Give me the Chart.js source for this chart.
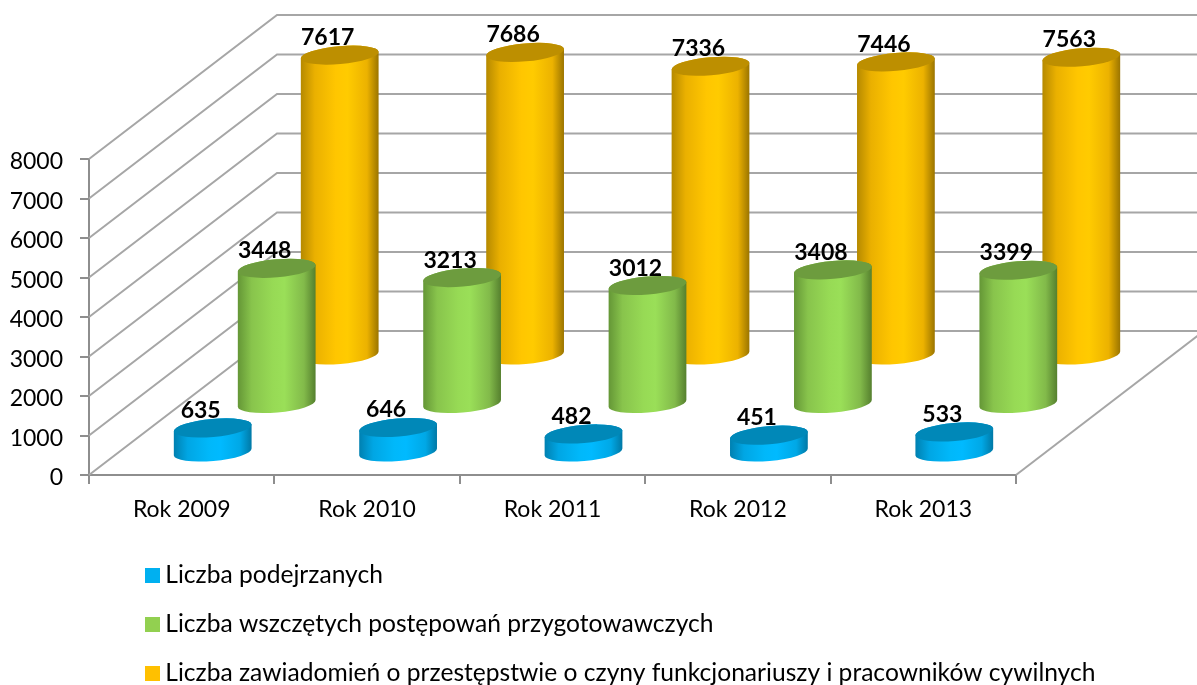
<!DOCTYPE html>
<html lang="pl">
<head>
<meta charset="utf-8">
<title>Liczba zawiadomień, postępowań i podejrzanych</title>
<script src="https://cdn.jsdelivr.net/npm/chart.js@4"></script>
<style>
    html, body { margin: 0; padding: 0; background: #fff; overflow: hidden; }
    canvas { display: block; }
</style>
</head>
<body>
<canvas id="cylinders" width="1197" height="685"></canvas>
<script>
var years = ['Rok 2009', 'Rok 2010', 'Rok 2011', 'Rok 2012', 'Rok 2013'];
var suspects = [635, 646, 482, 451, 533];
var proceedings = [3448, 3213, 3012, 3408, 3399];
var notifications = [7617, 7686, 7336, 7446, 7563];
var yTicks = [0, 1000, 2000, 3000, 4000, 5000, 6000, 7000, 8000];

var fontName = 'Lato, Carlito, sans-serif';
var textColor = '#000';
var gridColor = '#a6a6a6';
var axisColor = '#8e8e8e';

// how far back each row stands in the fake 3d box
var wallDepth = { x: 188, y: -144 };
var seriesDepth = [
    { x: 31, y: -22 },
    { x: 95, y: -70.5 },
    { x: 158, y: -119 }
];
var tilt = -5 * Math.PI / 180;
var capHeight = 9;

var sideColors = [
    ['#0080b0', '#00a6e4', '#00b8fa', '#00baff', '#00a8e6', '#0078a5'],
    ['#649636', '#88c44c', '#97da55', '#9adf58', '#82ba4a', '#557f2e'],
    ['#b58900', '#eab000', '#ffc600', '#ffcb00', '#ecb200', '#9a7400']
];
var topColors = ['#0088b8', '#6d9c3e', '#bd8f00'];
var legendColors = ['#00b0f0', '#92d050', '#ffc000'];

function legendSquare(color) {
    var c = document.createElement('canvas');
    c.width = 15;
    c.height = 15;
    var g = c.getContext('2d');
    g.fillStyle = color;
    g.fillRect(0, 0, 15, 15);
    return c;
}
var legendSquares = legendColors.map(legendSquare);

var boxPlugin = {
    id: 'box3d',
    beforeDatasetsDraw: function (chart) {
        var ctx = chart.ctx;
        var yScale = chart.scales.y;
        var area = chart.chartArea;
        ctx.save();
        ctx.strokeStyle = gridColor;
        ctx.lineWidth = 2;
        yTicks.forEach(function (value) {
            var y = yScale.getPixelForValue(value);
            ctx.beginPath();
            ctx.moveTo(area.left, y);
            ctx.lineTo(area.left + wallDepth.x, y + wallDepth.y);
            ctx.lineTo(area.right + wallDepth.x, y + wallDepth.y);
            ctx.stroke();
        });
        // right floor edge
        ctx.beginPath();
        ctx.moveTo(area.right, area.bottom);
        ctx.lineTo(area.right + wallDepth.x, area.bottom + wallDepth.y);
        ctx.stroke();
        ctx.restore();
    },
    beforeDatasetDraw: function (chart, args) {
        var ctx = chart.ctx;
        var depth = seriesDepth[args.index];
        args.meta.data.forEach(function (bar) {
            var cx = bar.x + depth.x;
            var rx = bar.width / 2;
            var topY = bar.y + depth.y;
            var baseY = bar.base + depth.y;
            var side = ctx.createLinearGradient(cx - rx, 0, cx + rx, 0);
            var stops = [0, 0.18, 0.45, 0.6, 0.85, 1];
            stops.forEach(function (s, i) {
                side.addColorStop(s, sideColors[args.index][i]);
            });
            ctx.save();
            ctx.fillStyle = side;
            ctx.beginPath();
            ctx.ellipse(cx, baseY, rx, capHeight, tilt, 0, Math.PI);
            ctx.ellipse(cx, topY, rx, capHeight, tilt, Math.PI, Math.PI * 2);
            ctx.closePath();
            ctx.fill();
            ctx.fillStyle = topColors[args.index];
            ctx.beginPath();
            ctx.ellipse(cx, topY, rx, capHeight, tilt, 0, Math.PI * 2);
            ctx.fill();
            ctx.restore();
        });
        return false;
    },
    afterDatasetsDraw: function (chart) {
        var ctx = chart.ctx;
        ctx.save();
        ctx.font = 'bold 23px ' + fontName;
        ctx.fillStyle = textColor;
        ctx.textAlign = 'center';
        ctx.textBaseline = 'alphabetic';
        chart.data.datasets.forEach(function (dataset, i) {
            var depth = seriesDepth[i];
            chart.getDatasetMeta(i).data.forEach(function (bar, j) {
                ctx.fillText(dataset.data[j], bar.x + depth.x - 12, bar.y + depth.y - 10);
            });
        });
        ctx.restore();
    },
    afterLayout: function (chart) {
        // stack the legend under the axis, in a single left-aligned column
        var legend = chart.legend;
        var pad = legend.options.labels.padding;
        legend.left = 152 - pad;
        legend.right = 1197;
        legend.top = 563 - pad;
        legend.bottom = 800;
    }
};

new Chart(document.getElementById('cylinders').getContext('2d'), {
    type: 'bar',
    plugins: [boxPlugin],
    data: {
        labels: years,
        datasets: [
            { label: 'Liczba podejrzanych', data: suspects, backgroundColor: legendColors[0] },
            { label: 'Liczba wszczętych postępowań przygotowawczych', data: proceedings, backgroundColor: legendColors[1] },
            { label: 'Liczba zawiadomień o przestępstwie o czyny funkcjonariuszy i pracowników cywilnych', data: notifications, backgroundColor: legendColors[2] }
        ]
    },
    options: {
        responsive: false,
        animation: false,
        events: [],
        layout: { padding: { left: 0, top: 159, right: 181, bottom: 150 } },
        datasets: { bar: { grouped: false, categoryPercentage: 1, barPercentage: 0.421 } },
        scales: {
            x: {
                afterFit: function (scale) { scale.height = 60; },
                border: { color: axisColor, width: 2 },
                grid: { drawOnChartArea: false, color: axisColor, lineWidth: 2, tickLength: 9 },
                ticks: { color: textColor, font: { family: fontName, size: 23 }, padding: 12, maxRotation: 0, autoSkip: false }
            },
            y: {
                min: 0,
                max: 8000,
                afterFit: function (scale) { scale.width = 89; },
                afterBuildTicks: function (scale) {
                    scale.ticks = yTicks.map(function (v) { return { value: v }; });
                },
                border: { color: axisColor, width: 2 },
                grid: { drawOnChartArea: false, color: axisColor, lineWidth: 2, tickLength: 9 },
                ticks: {
                    color: textColor,
                    font: { family: fontName, size: 23 },
                    padding: 17,
                    labelOffset: 3,
                    callback: function (value) { return String(value); }
                }
            }
        },
        plugins: {
            title: { display: false },
            tooltip: { enabled: false },
            legend: {
                position: 'chartArea',
                align: 'start',
                labels: {
                    color: textColor,
                    font: { family: fontName, size: 24.6 },
                    padding: 24.3,
                    usePointStyle: true,
                    pointStyleWidth: 1,
                    boxHeight: 15,
                    generateLabels: function (chart) {
                        return chart.data.datasets.map(function (dataset, i) {
                            return {
                                text: dataset.label,
                                datasetIndex: i,
                                fontColor: textColor,
                                fillStyle: legendColors[i],
                                strokeStyle: legendColors[i],
                                lineWidth: 0,
                                pointStyle: legendSquares[i]
                            };
                        });
                    }
                }
            }
        }
    }
});
</script>
</body>
</html>
